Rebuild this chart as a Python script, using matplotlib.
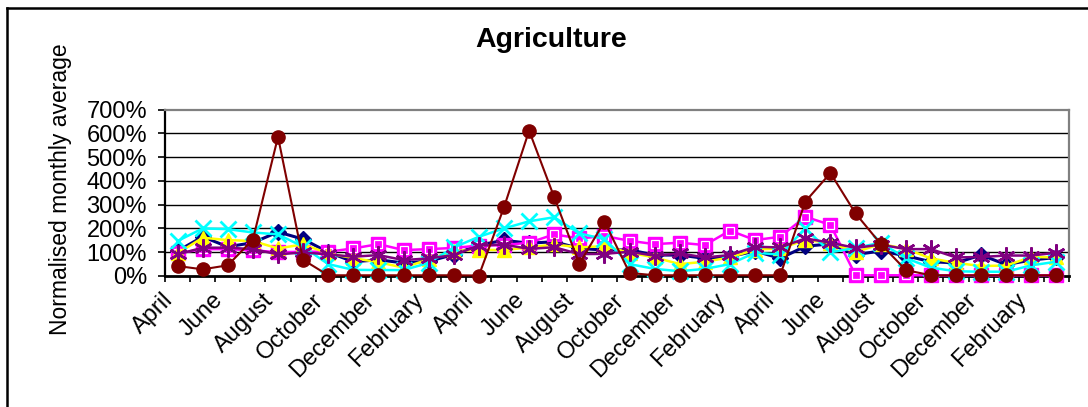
import matplotlib
matplotlib.use("Agg")
import matplotlib.pyplot as plt
from matplotlib.lines import Line2D
from matplotlib.ticker import FuncFormatter, FixedLocator, NullFormatter
from matplotlib.transforms import ScaledTranslation

plt.rcParams['font.family'] = ['Liberation Sans', 'DejaVu Sans']

# Months of the three financial years (April to March)
months = ["April", "May", "June", "July", "August", "September", "October",
          "November", "December", "January", "February", "March"]
categories = months * 3
tick_labels = categories[::2]

# Normalised monthly averages (%)
navy_series = [105, 165, 123, 140, 185, 155, 100, 60, 68, 55, 62, 90,
               130, 150, 138, 144, 116, 109, 110, 88, 88, 74, 81, 105,
               74, 125, 135, 90, 105, 85, 60, 55, 88, 48, 67, 78]
magenta_series = [95, 113, 113, 108, 100, 102, 102, 116, 134, 109, 113, 118,
                  128, 130, 140, 175, 158, 168, 148, 134, 140, 130, 191, 151,
                  165, 249, 215, 3, 3, 3, 3, 3, 3, 3, 3, 3]
yellow_series = [95, 161, 151, 147, 116, 133, 95, 75, 58, 35, 70, 105,
                 110, 109, 120, 133, 120, 126, 98, 78, 50, 60, 78, 111,
                 116, 151, 140, 100, 135, 114, 74, 55, 42, 44, 80, 78]
cyan_series = [147, 200, 197, 183, 175, 123, 50, 26, 25, 25, 55, 120,
               165, 200, 230, 247, 179, 155, 50, 30, 20, 30, 50, 98,
               90, 200, 100, 118, 140, 75, 35, 20, 18, 18, 45, 60]
purple_series = [91, 119, 119, 113, 91, 99, 91, 81, 88, 67, 74, 88,
                 128, 132, 114, 121, 92, 93, 102, 85, 95, 78, 88, 123,
                 120, 158, 140, 118, 132, 113, 113, 78, 80, 86, 86, 98]
brown_series = [42, 28, 45, 153, 585, 68, 3, 3, 3, 3, 3, 3,
                2, 289, 611, 331, 51, 229, 13, 3, 3, 3, 3, 3,
                3, 313, 433, 263, 135, 25, 3, 3, 3, 3, 3, 3]

W, H = 1088, 407
fig = plt.figure(figsize=(W / 100, H / 100), dpi=100)
fig.patch.set_facecolor("white")

ax = fig.add_axes([165 / W, 1 - 276 / H, (1069 - 165) / W, (276 - 109.5) / H])

x = list(range(len(categories)))
asterisk = (6, 2, 0)

ax.plot(x, navy_series, color="#000080", lw=2.2, marker="D", ms=8,
        mfc="#000080", mec="#000080", clip_on=False, zorder=3)
ax.plot(x, magenta_series, color="#FF00FF", lw=1.8, marker="s", ms=10,
        mfc="#FF00FF", mec="#FF00FF", clip_on=False, zorder=4)
ax.plot(x, magenta_series, ls="none", marker="s", ms=6, mfc="none",
        mec="white", mew=0.9, clip_on=False, zorder=4)
ax.plot(x, yellow_series, color="#FFFF00", lw=1.8, marker="^", ms=10,
        mfc="#FFFF00", mec="#FFFF00", clip_on=False, zorder=5)
ax.plot(x, cyan_series, color="#00FFFF", lw=1.8, marker="x", ms=11,
        mew=2.0, mec="#00FFFF", clip_on=False, zorder=6)
ax.plot(x, purple_series, color="#800080", lw=1.8, marker=asterisk, ms=13,
        mew=1.8, mec="#800080", clip_on=False, zorder=7)
ax.plot(x, brown_series, color="#800000", lw=1.5, marker="o", ms=9.5,
        mfc="#800000", mec="#800000", clip_on=False, zorder=8)

ax.set_xlim(-0.5, len(categories) - 0.5)
ax.set_ylim(0, 700)
ax.set_yticks(range(0, 701, 100))
ax.yaxis.set_major_formatter(FuncFormatter(lambda v, p: f"{v:.0f}%"))
ax.tick_params(axis="y", direction="out", length=5, width=1.2,
               labelsize=17, pad=8, colors="black")

# labels every other month, tick marks between categories
ax.set_xticks(x[::2])
ax.set_xticklabels(tick_labels, rotation=45, ha="right", va="center",
                   rotation_mode="anchor", fontsize=17)
ax.tick_params(axis="x", which="major", length=0, pad=15)
shift = ScaledTranslation(-8 / 100, 0, fig.dpi_scale_trans)
for lbl in ax.get_xticklabels():
    lbl.set_transform(lbl.get_transform() + shift)
ax.xaxis.set_minor_locator(FixedLocator([i - 0.5 for i in range(len(categories) + 1)]))
ax.xaxis.set_minor_formatter(NullFormatter())
ax.tick_params(axis="x", which="minor", direction="out", length=4, width=1.2)

for v in range(100, 700, 100):
    ax.axhline(v, color="black", lw=1.0, zorder=1)

ax.spines["left"].set_color("black")
ax.spines["left"].set_linewidth(1.6)
ax.spines["bottom"].set_color("black")
ax.spines["bottom"].set_linewidth(2.0)
ax.spines["top"].set_color("#808080")
ax.spines["top"].set_linewidth(1.6)
ax.spines["right"].set_color("#808080")
ax.spines["right"].set_linewidth(1.6)

fig.text(551 / W, 1 - 40 / H, "Agriculture", ha="center", va="center",
         fontsize=20.5, fontweight="bold")
fig.text(61 / W, 1 - 189 / H, "Normalised monthly average", ha="center",
         va="center", rotation=90, fontsize=16.5)

# outer frame (top and left edges fall inside the canvas)
fig.add_artist(Line2D([7 / W, 7 / W], [0, 1 - 7.5 / H], color="black",
                      lw=1.8, transform=fig.transFigure))
fig.add_artist(Line2D([7 / W, 1], [1 - 7.5 / H, 1 - 7.5 / H], color="black",
                      lw=1.8, transform=fig.transFigure))

fig.savefig("out.png", dpi=100)
